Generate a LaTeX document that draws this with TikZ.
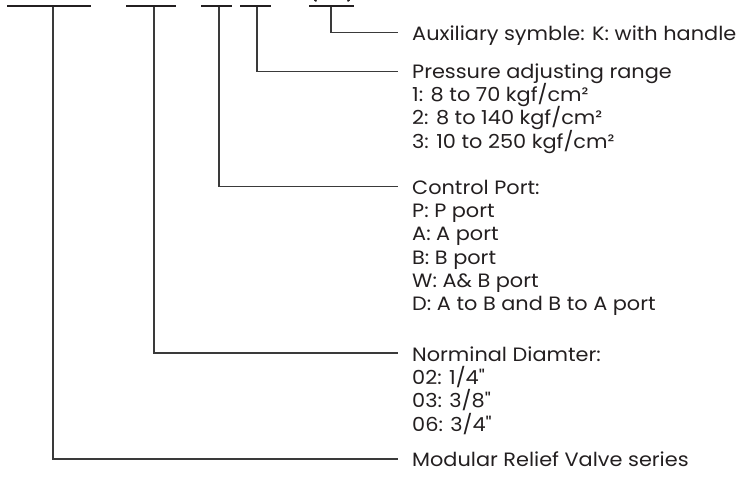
\documentclass[tikz,border=0pt]{standalone}
\usepackage{fontspec}
\setmainfont{Poppins}[FakeStretch=1.08]
\definecolor{ink}{HTML}{231F20}
\definecolor{wire}{HTML}{3A3A3A}
\tikzset{
  x=1pt, y=-1pt,
  codebar/.style={line width=2.6pt, draw=ink},
  wire/.style={line width=1.2pt, draw=wire},
  lbl/.style={anchor=base west, inner sep=0pt, text=ink, font=\fontsize{19.3}{23}\selectfont},
}
\begin{document}
\begin{tikzpicture}
\useasboundingbox (0,0) rectangle (745,482);
% code bars
\draw[codebar] (7,6) -- (91,6);
\draw[codebar] (126,6) -- (176,6);
\draw[codebar] (201,6) -- (232,6);
\draw[codebar] (240,6) -- (271,6);
\draw[codebar] (309,6) -- (354,6);
% bottoms of the parentheses
\draw[line width=1.6pt, draw=ink] (314.5,0) -- (316.5,1.2);
\draw[line width=1.6pt, draw=ink] (349.5,0) -- (347.5,1.2);
% stem tops
\coordinate (s1) at (53,7);
\coordinate (s2) at (154,7);
\coordinate (s3) at (219,7);
\coordinate (s4) at (257,7);
\coordinate (s5) at (331,7);
% connector ends
\coordinate (e5) at (398,32.5);
\coordinate (e4) at (398,71.7);
\coordinate (e3) at (398,186.5);
\coordinate (e2) at (398,353);
\coordinate (e1) at (398,459);
% labels
\node[lbl] (aux) at (412,40) {Auxiliary symble: K: with handle};
\node[lbl] (pr0) at (412,78) {Pressure adjusting range};
\node[lbl] (pr1) at (412,101.3) {1: 8 to 70 kgf/cm²};
\node[lbl] (pr2) at (412,124.6) {2: 8 to 140 kgf/cm²};
\node[lbl] (pr3) at (412,148) {3: 10 to 250 kgf/cm²};
\node[lbl] (cp0) at (412,194) {Control Port:};
\node[lbl] (cp1) at (412,217.3) {P: P port};
\node[lbl] (cp2) at (412,240.6) {A: A port};
\node[lbl] (cp3) at (412,264) {B: B port};
\node[lbl] (cp4) at (412,287.3) {W: A\& B port};
\node[lbl] (cp5) at (412,310.6) {D: A to B and B to A port};
\node[lbl] (nd0) at (412,361) {Norminal Diamter:};
\node[lbl] (nd1) at (412,384.3) {02: 1/4\textquotedbl};
\node[lbl] (nd2) at (412,407.6) {03: 3/8\textquotedbl};
\node[lbl] (nd3) at (412,431) {06: 3/4\textquotedbl};
\node[lbl] (ser) at (412,466.5) {Modular Relief Valve series};
% connectors
\draw[wire] (s5) |- (e5);
\draw[wire] (s4) |- (e4);
\draw[wire] (s3) |- (e3);
\draw[wire] (s2) |- (e2);
\draw[wire] (s1) |- (e1);
\end{tikzpicture}
\end{document}
